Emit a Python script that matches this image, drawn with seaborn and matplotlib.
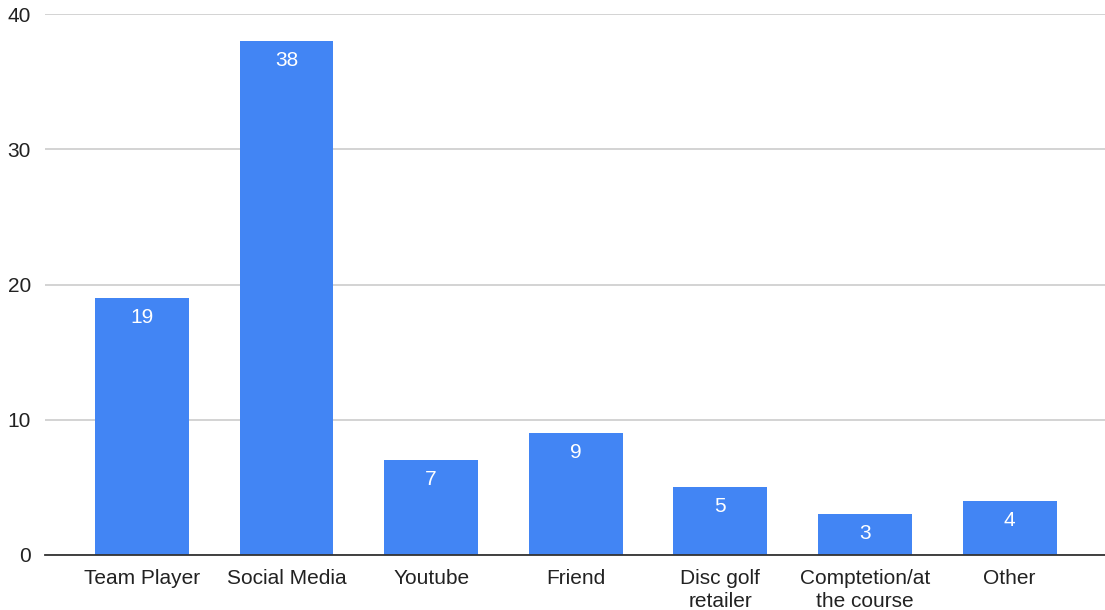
import matplotlib
matplotlib.use("Agg")
import matplotlib.pyplot as plt
import seaborn as sns
import pandas as pd

categories = ["Team Player", "Social Media", "Youtube", "Friend",
              "Disc golf\nretailer", "Comptetion/at\nthe course", "Other"]
counts = [19, 38, 7, 9, 5, 3, 4]
y_ticks = [0, 10, 20, 30, 40]

sns.set_style("white")
plt.rcParams["font.family"] = ["Liberation Sans", "DejaVu Sans"]

df = pd.DataFrame({"source": categories, "count": counts})

fig = plt.figure(figsize=(11.05, 6.10), dpi=100)
ax = fig.add_axes([45 / 1105, 1 - 555 / 610, 1 - 45 / 1105, (555 - 14) / 610])

sns.barplot(data=df, x="source", y="count", color="#4285F4", saturation=1,
            width=0.65, ax=ax, zorder=3)

for p in ax.patches:
    p.set_edgecolor("none")

ax.set_xlim(-0.67, 6.66)
ax.set_ylim(0, 40)
ax.set_yticks(y_ticks)
ax.yaxis.grid(True, color="#cccccc", linewidth=1.2, zorder=0)
ax.set_axisbelow(True)
for s in ["top", "right", "left"]:
    ax.spines[s].set_visible(False)
ax.spines["bottom"].set_color("#333333")
ax.spines["bottom"].set_linewidth(1.3)
ax.spines["bottom"].set_zorder(4)
ax.set_xlabel("")
ax.set_ylabel("")
ax.tick_params(axis="both", length=0, labelsize=15, colors="#222222")
ax.tick_params(axis="x", pad=10)
ax.tick_params(axis="y", pad=10)
for lbl in ax.get_xticklabels():
    lbl.set_linespacing(1.25)

for i, v in enumerate(counts):
    ax.annotate(str(v), xy=(i, v), xytext=(0, -14), textcoords="offset points",
                ha="center", va="center", color="white", fontsize=15, zorder=5)

fig.savefig("out.png", dpi=100)
